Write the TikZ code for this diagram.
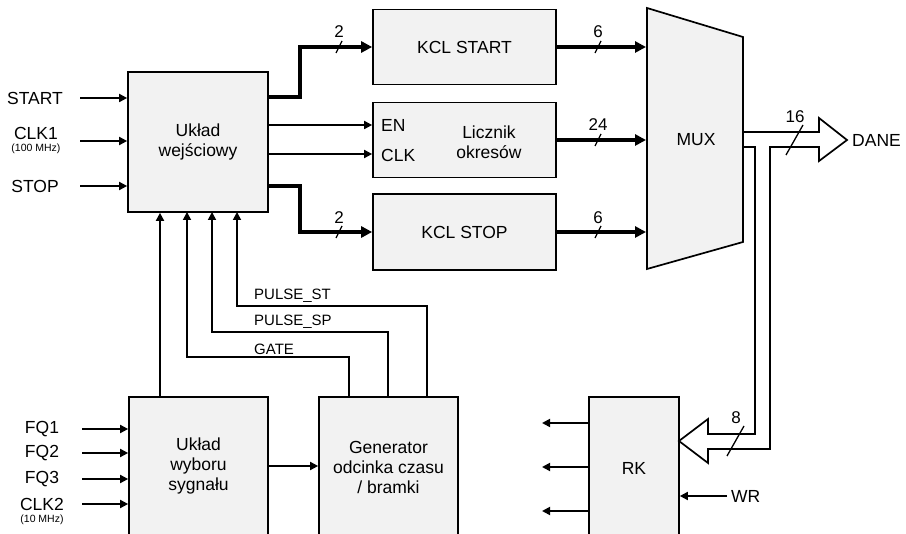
\documentclass[tikz,border=0pt]{standalone}
\usepackage{fontspec}
\setmainfont{Liberation Sans}
\usetikzlibrary{arrows.meta}
\definecolor{boxgray}{HTML}{F2F2F2}
\tikzset{
  box/.style={draw, fill=boxgray, line width=1.7pt, inner sep=0pt, align=center},
  txt/.style={inner sep=0pt, align=center},
  thin/.style={line width=1.7pt, -{Triangle[length=8pt,width=8pt]}},
  thk/.style={line width=3.5pt, -{Triangle[length=11pt,width=11pt]}},
  slash/.style={line width=1.3pt},
  num/.style={inner sep=0pt, font=\fontsize{17}{19}\selectfont},
  sig/.style={inner sep=0pt, anchor=west, font=\fontsize{15}{17}\selectfont},
  small/.style={inner sep=0pt, font=\fontsize{10.5}{12}\selectfont},
}
\begin{document}
\begin{tikzpicture}[x=1pt,y=-1pt,font=\fontsize{17.5}{20}\selectfont]
\clip (0,0) rectangle (906,534);
\fill[white] (0,0) rectangle (906,534);

% main boxes
\node[box, minimum width=140pt, minimum height=140pt] (wej) at (198,142) {Układ\\wejściowy};
\node[box, minimum width=183pt, minimum height=75pt] (kcl1) at (464.5,47) {KCL START};
\node[box, minimum width=183pt, minimum height=75pt] (licz) at (464.5,140) {};
\node[txt] (licztxt) at (489,142) {Licznik\\okresów};
\node[txt, anchor=west] (en) at (381,125) {EN};
\node[txt, anchor=west] (clk) at (381,155) {CLK};
\node[box, minimum width=183pt, minimum height=76pt] (kcl2) at (464.5,232) {KCL STOP};

% MUX
\draw[line width=1.7pt, fill=boxgray] (647,8) -- (743,37) -- (743,242) -- (647,269) -- cycle;
\node[txt] (mux) at (696,140) {MUX};

% bottom boxes
\node[box, minimum width=139pt, minimum height=150pt] (wyb) at (198.5,472) {};
\node[txt] (wybtxt) at (198.5,466) {Układ\\wyboru\\sygnału};
\node[box, minimum width=139pt, minimum height=150pt] (gen) at (388.5,472) {};
\node[txt] (gentxt) at (388.5,467) {Generator\\odcinka czasu\\/ bramki};
\node[box, minimum width=90pt, minimum height=150pt] (rk) at (634,472) {};
\node[txt] (rktxt) at (634,468) {RK};

% left inputs
\node[txt] (lstart) at (35,98) {START};
\node[txt] (lclk1) at (36,133) {CLK1};
\node[small] (l100) at (36,149) {(100 MHz)};
\node[txt] (lstop) at (35,186) {STOP};
\coordinate (istart) at (80,98);
\coordinate (iclk1) at (80,141);
\coordinate (istop) at (80,186);
\draw[thin] (istart) -- (istart -| wej.west);
\draw[thin] (iclk1) -- (iclk1 -| wej.west);
\draw[thin] (istop) -- (istop -| wej.west);

% outputs of wej
\coordinate (o1) at (268,97);
\coordinate (o1b) at (300,47);
\coordinate (o2) at (268,186);
\coordinate (o2b) at (300,232);
\draw[thk] (o1) -| (o1b) -- (kcl1.west);
\draw[thk] (o2) -| (o2b) -- (kcl2.west);
\coordinate (oen) at (268,125);
\coordinate (oclk) at (268,154);
\draw[thin] (oen) -- (oen -| licz.west);
\draw[thin] (oclk) -- (oclk -| licz.west);
\node[num] (n2a) at (339,32) {2};
\node[num] (n2b) at (339,218) {2};
\draw[slash] (336,53) -- (342,41);
\draw[slash] (336,238) -- (342,226);

% to MUX
\coordinate (m1) at (646,47);
\coordinate (m2) at (646,140);
\coordinate (m3) at (646,232);
\draw[thk] (kcl1.east) -- (m1);
\draw[thk] (licz.east) -- (m2);
\draw[thk] (kcl2.east) -- (m3);
\node[num] (n6a) at (598,32) {6};
\node[num] (n24) at (598,125) {24};
\node[num] (n6b) at (598,218) {6};
\draw[slash] (595,53) -- (601,41);
\draw[slash] (595,146) -- (601,134);
\draw[slash] (595,238) -- (601,226);

% bus
\draw[line width=1.7pt, line join=miter]
  (743,132) -- (819,132) -- (819,118) -- (847,140) -- (819,161) -- (819,147)
  -- (770,147) -- (770,449) -- (708,449) -- (708,463) -- (679,441)
  -- (708,419) -- (708,434) -- (755,434) -- (755,147) -- (743,147);
\node[txt, anchor=west] (dane) at (852,140) {DANE};
\node[num] (n16) at (795,117) {16};
\draw[slash] (786,155) -- (803,125);
\node[num] (n8) at (736,418) {8};
\draw[slash] (727,456) -- (744,426);

% RK outputs
\coordinate (r1) at (542,423);
\coordinate (r2) at (542,467);
\coordinate (r3) at (542,511);
\draw[thin] (r1 -| rk.west) -- (r1);
\draw[thin] (r2 -| rk.west) -- (r2);
\draw[thin] (r3 -| rk.west) -- (r3);
\coordinate (wr) at (727,496);
\draw[thin] (wr) -- (wr -| rk.east);
\node[txt, anchor=west] (lwr) at (731,496) {WR};

% bottom-left inputs
\node[txt] (lfq1) at (42,429) {FQ1};
\node[txt] (lfq2) at (42,453) {FQ2};
\node[txt] (lfq3) at (42,479) {FQ3};
\node[txt] (lclk2) at (42,504) {CLK2};
\node[small] (l10) at (42,520) {(10 MHz)};
\coordinate (ifq1) at (82,429);
\coordinate (ifq2) at (82,453);
\coordinate (ifq3) at (82,479);
\coordinate (iclk2) at (82,504);
\draw[thin] (ifq1) -- (ifq1 -| wyb.west);
\draw[thin] (ifq2) -- (ifq2 -| wyb.west);
\draw[thin] (ifq3) -- (ifq3 -| wyb.west);
\draw[thin] (iclk2) -- (iclk2 -| wyb.west);
\coordinate (wg) at (268,466);
\draw[thin] (wg) -- (wg -| gen.west);

% feedback lines
\coordinate (v0) at (160,397);
\draw[thin] (v0) -- (v0 |- wej.south);
\coordinate (g1) at (349,357);
\coordinate (g2) at (388,332);
\coordinate (g3) at (427,306);
\coordinate (x1) at (187,212);
\coordinate (x2) at (212,212);
\coordinate (x3) at (237,212);
\draw[thin] (g1 |- gen.north) -- (g1) -| (x1);
\draw[thin] (g2 |- gen.north) -- (g2) -| (x2);
\draw[thin] (g3 |- gen.north) -- (g3) -| (x3);
\node[sig] (lst) at (254,296) {PULSE\_ST};
\node[sig] (lsp) at (254,322) {PULSE\_SP};
\node[sig] (lgate) at (254,349) {GATE};
\end{tikzpicture}
\end{document}
